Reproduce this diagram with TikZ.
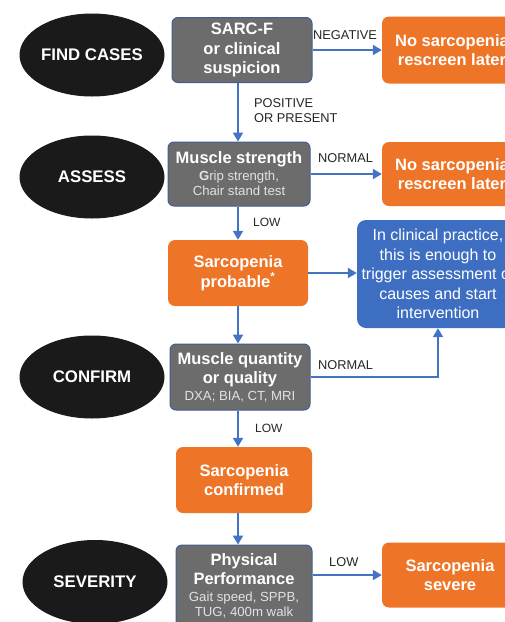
\documentclass[tikz,border=0pt]{standalone}
\usepackage{fontspec}
\setmainfont{Liberation Sans}
\usetikzlibrary{arrows.meta,shapes.geometric}
\definecolor{og}{HTML}{EE7427}
\definecolor{bbox}{HTML}{3D6EC2}
\definecolor{gy}{HTML}{6C6C6C}
\definecolor{gyb}{HTML}{405E92}
\definecolor{ar}{HTML}{4472C4}
\definecolor{elf}{HTML}{1A1A1A}
\definecolor{subc}{HTML}{E2E2E2}
\newcommand\subt[1]{{\fontsize{13.2}{15}\selectfont\mdseries\color{subc}#1}}
\begin{document}
\begin{tikzpicture}[x=1pt,y=-1pt,
  stage/.style={ellipse,fill=elf,text=white,minimum width=145pt,minimum height=83pt,inner sep=0pt,
    font=\fontsize{16.8}{19}\selectfont\bfseries},
  greybox/.style={rectangle,rounded corners=6pt,fill=gy,draw=gyb,line width=1pt,text=white,align=center,
    inner sep=0pt,font=\fontsize{16.5}{19.5}\selectfont\bfseries},
  orbox/.style={rectangle,rounded corners=7pt,fill=og,text=white,align=center,inner sep=0pt,
    font=\fontsize{16.5}{19.5}\selectfont\bfseries},
  bluebox/.style={rectangle,rounded corners=9pt,fill=bbox,text=white,align=center,inner sep=0pt,
    font=\fontsize{16}{19.5}\selectfont},
  arr/.style={draw=ar,line width=2pt,-{Triangle[length=9pt,width=10pt]}},
  lab/.style={inner sep=0pt,font=\fontsize{12.8}{15}\selectfont,text=black!85,align=left}
]
\useasboundingbox (0,0) rectangle (505,622);
\fill[white] (0,0) rectangle (505,622);
\clip (0,0) rectangle (505,622);

% stages
\node[stage] (e1) at (92,55) {FIND CASES};
\node[stage] (e2) at (92,177) {ASSESS};
\node[stage] (e3) at (92,377) {CONFIRM};
\node[stage,minimum height=84pt] (e4) at (95,582) {SEVERITY};

% main column
\node[greybox,minimum width=140pt,minimum height=65pt] (b1) at (242,50) {SARC-F\\or clinical\\suspicion};
\node[greybox,minimum width=142pt,minimum height=64pt] (b2) at (239,174)
  {Muscle strength\\[-3pt]\subt{\textbf{G}rip strength,}\\[-4pt]\subt{Chair stand test}};
\node[orbox,minimum width=140pt,minimum height=66pt] (p1) at (238,273) {Sarcopenia\\probable\textsuperscript{*}};
\node[greybox,minimum width=140pt,minimum height=66pt] (b3) at (240,377)
  {Muscle quantity\\or quality\\[-3pt]\subt{DXA; BIA, CT, MRI}};
\node[orbox,minimum width=136pt,minimum height=66pt] (c1) at (244,480) {Sarcopenia\\confirmed};
\node[greybox,minimum width=136pt,minimum height=82pt] (b4) at (244,586)
  {Physical\\Performance\\[-3pt]\subt{Gait speed, SPPB,}\\[-4pt]\subt{TUG, 400m walk}};

% right column
\node[orbox,minimum width=140pt,minimum height=67pt] (r1) at (452,50) {No sarcopenia\\rescreen later};
\node[orbox,minimum width=140pt,minimum height=64pt] (r2) at (452,174) {No sarcopenia\\rescreen later};
\node[bluebox,minimum width=162pt,minimum height=108pt] (bl) at (438,274)
  {In clinical practice,\\this is enough to\\trigger assessment of\\causes and start\\intervention};
\node[orbox,minimum width=136pt,minimum height=65pt] (r3) at (450,575) {Sarcopenia\\severe};

% connectors
\draw[arr] (b1.east) -- (r1.west);
\draw[arr] (b1.south -| p1.north) -- (p1.north |- b2.north);
\draw[arr] (b2.east) -- (r2.west);
\draw[arr] (b2.south -| p1.north) -- (p1.north);
\draw[arr] (p1.east) -- (p1.east -| bl.west);
\draw[arr] (p1.south) -- (p1.south |- b3.north);
\draw[arr] (b3.east) -| (bl.south);
\draw[arr] (p1.south |- b3.south) -- (p1.south |- c1.north);
\draw[arr] (p1.south |- c1.south) -- (p1.south |- b4.north);
\draw[arr] (r3.west -| b4.east) -- (r3.west);

% labels
\node[lab,anchor=west] (l1) at (313,35) {NEGATIVE};
\node[lab,anchor=north west] (l2) at (254,98) {POSITIVE\\OR PRESENT};
\node[lab,anchor=west] (l3) at (318,158) {NORMAL};
\node[lab,anchor=west,font=\fontsize{12}{14}\selectfont] (l4) at (253,222) {LOW};
\node[lab,anchor=west] (l5) at (318,365) {NORMAL};
\node[lab,anchor=west,font=\fontsize{12}{14}\selectfont] (l6) at (255,428) {LOW};
\node[lab,anchor=west] (l7) at (329,562) {LOW};
\end{tikzpicture}
\end{document}
